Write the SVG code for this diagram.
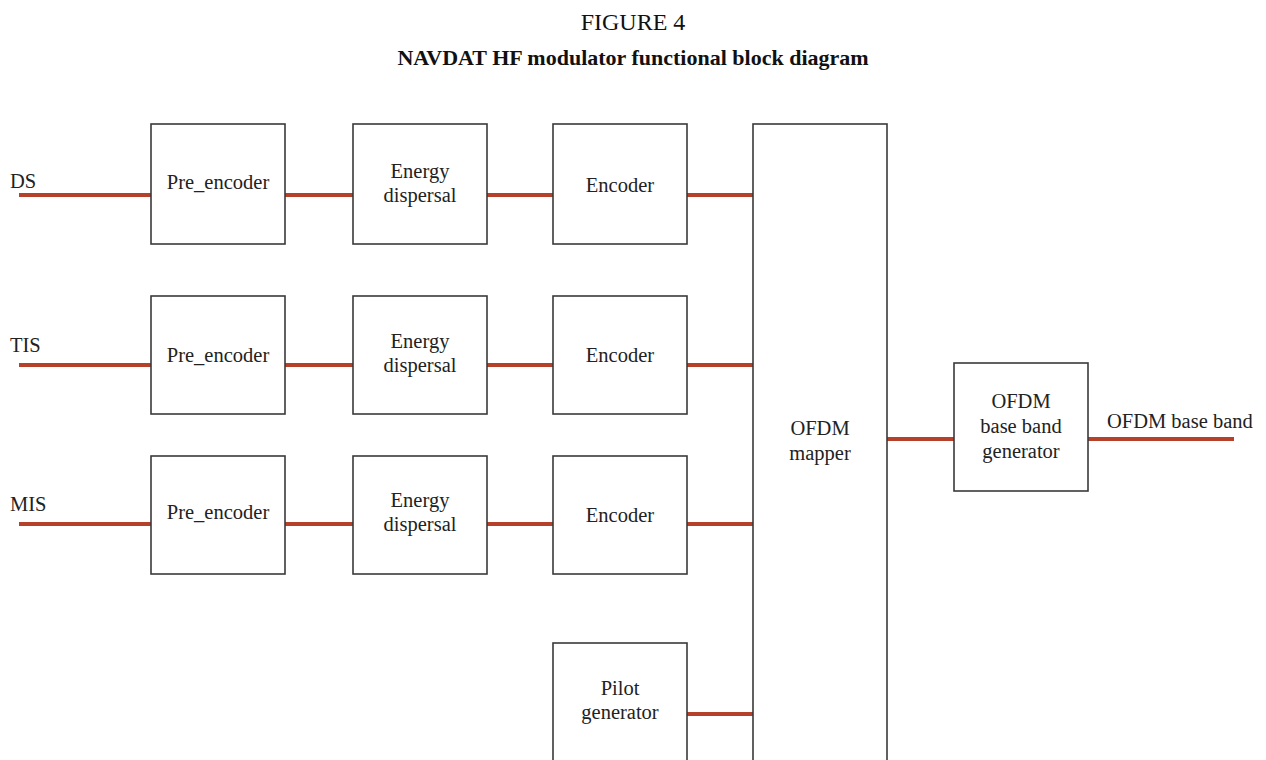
<svg xmlns="http://www.w3.org/2000/svg" width="1266" height="760" viewBox="0 0 1266 760">
<style>
.b{fill:#fff;stroke:#3a3a3a;stroke-width:1.6}
.t{font-family:"Liberation Serif",serif;font-size:20.5px;fill:#222;text-anchor:middle}
.l{font-family:"Liberation Serif",serif;font-size:20.5px;fill:#222}
.c{stroke:#b5412b;stroke-width:4;fill:none}
</style>
<rect width="1266" height="760" fill="#fff"/>
<text x="633" y="30" class="t" style="font-size:24px;fill:#111">FIGURE 4</text>
<text x="633" y="65" class="t" style="font-size:22px;font-weight:bold;fill:#111">NAVDAT HF modulator functional block diagram</text>
<g id="connectors">
<path class="c" d="M19 195H151M285 195H353M487 195H553M687 195H753"/>
<path class="c" d="M19 365H151M285 365H353M487 365H553M687 365H753"/>
<path class="c" d="M19 524H151M285 524H353M487 524H553M687 524H753"/>
<path class="c" d="M687 714H753"/>
<path class="c" d="M887 439H954M1088 439H1234"/>
</g>
<text x="10" y="188" class="l">DS</text>
<text x="10" y="352" class="l">TIS</text>
<text x="10" y="511" class="l">MIS</text>
<text x="1107" y="428" class="l">OFDM base band</text>
<g id="pre1"><rect class="b" x="151" y="124" width="134" height="120"/><text x="218" y="189" class="t">Pre_encoder</text></g>
<g id="ed1"><rect class="b" x="353" y="124" width="134" height="120"/><text x="420" y="178" class="t">Energy</text><text x="420" y="202" class="t">dispersal</text></g>
<g id="enc1"><rect class="b" x="553" y="124" width="134" height="120"/><text x="620" y="192" class="t">Encoder</text></g>
<g id="pre2"><rect class="b" x="151" y="296" width="134" height="118"/><text x="218" y="362" class="t">Pre_encoder</text></g>
<g id="ed2"><rect class="b" x="353" y="296" width="134" height="118"/><text x="420" y="348" class="t">Energy</text><text x="420" y="372" class="t">dispersal</text></g>
<g id="enc2"><rect class="b" x="553" y="296" width="134" height="118"/><text x="620" y="362" class="t">Encoder</text></g>
<g id="pre3"><rect class="b" x="151" y="456" width="134" height="118"/><text x="218" y="519" class="t">Pre_encoder</text></g>
<g id="ed3"><rect class="b" x="353" y="456" width="134" height="118"/><text x="420" y="507" class="t">Energy</text><text x="420" y="531" class="t">dispersal</text></g>
<g id="enc3"><rect class="b" x="553" y="456" width="134" height="118"/><text x="620" y="522" class="t">Encoder</text></g>
<g id="pilot"><rect class="b" x="553" y="643" width="134" height="130"/><text x="620" y="695" class="t">Pilot</text><text x="620" y="719" class="t">generator</text></g>
<g id="mapper"><rect class="b" x="753" y="124" width="134" height="650"/><text x="820" y="435" class="t">OFDM</text><text x="820" y="460" class="t">mapper</text></g>
<g id="bbgen"><rect class="b" x="954" y="363" width="134" height="128"/><text x="1021" y="408" class="t">OFDM</text><text x="1021" y="433" class="t">base band</text><text x="1021" y="458" class="t">generator</text></g>
</svg>
